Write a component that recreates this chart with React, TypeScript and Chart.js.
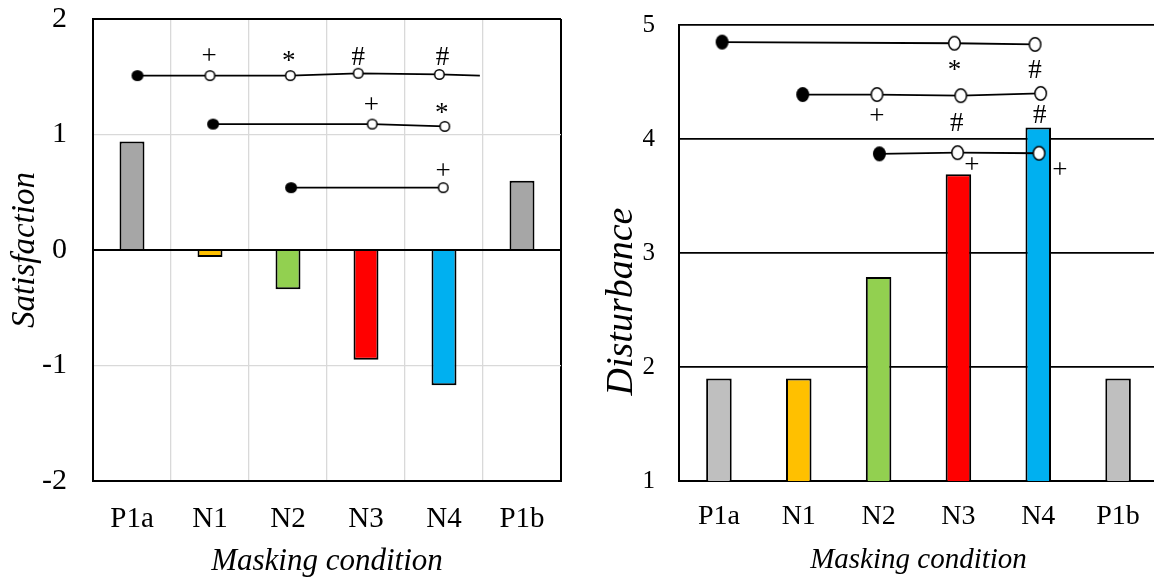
import React, { useEffect, useRef } from 'react';
import { Chart, registerables } from 'chart.js';

Chart.register(...registerables);

const FONT = "'Liberation Serif', 'Times New Roman', serif";

// ---------- data ----------
const categories = ['P1a', 'N1', 'N2', 'N3', 'N4', 'P1b'];
const satisfaction = [0.94, -0.06, -0.34, -0.95, -1.17, 0.6];
const disturbance = [1.9, 1.9, 2.79, 3.69, 4.1, 1.9];

// significance rows: point positions (x in category index units), kind: F = reference (filled), O = compared (open), '-' = line end only
const satRow1 = [
  { x: 0.07, y: 1.51 }, { x: 1.0, y: 1.51 }, { x: 2.03, y: 1.51 },
  { x: 2.9, y: 1.53 }, { x: 3.94, y: 1.52 }, { x: 4.46, y: 1.51 },
];
const satRow1Kinds = ['F', 'O', 'O', 'O', 'O', '-'];
const satRow2 = [{ x: 1.04, y: 1.09 }, { x: 3.08, y: 1.09 }, { x: 4.01, y: 1.07 }];
const satRow2Kinds = ['F', 'O', 'O'];
const satRow3 = [{ x: 2.04, y: 0.54 }, { x: 3.99, y: 0.54 }];
const satRow3Kinds = ['F', 'O'];

const satSymbols = [
  { x: 0.99, y: 1.672, t: '+' }, { x: 2.01, y: 1.674, t: '*' },
  { x: 2.9, y: 1.681, t: '#' }, { x: 3.98, y: 1.681, t: '#' },
  { x: 3.07, y: 1.241, t: '+' }, { x: 3.97, y: 1.23, t: '*' },
  { x: 3.99, y: 0.67, t: '+' },
];

const distRow1 = [{ x: 0.04, y: 4.85 }, { x: 2.95, y: 4.84 }, { x: 3.96, y: 4.83 }];
const distRow1Kinds = ['F', 'O', 'O'];
const distRow2 = [{ x: 1.05, y: 4.39 }, { x: 1.98, y: 4.39 }, { x: 3.03, y: 4.38 }, { x: 4.03, y: 4.4 }];
const distRow2Kinds = ['F', 'O', 'O', 'O'];
const distRow3 = [{ x: 2.01, y: 3.87 }, { x: 2.99, y: 3.88 }, { x: 4.01, y: 3.875 }];
const distRow3Kinds = ['F', 'O', 'O'];

const distSymbols = [
  { x: 2.95, y: 4.643, t: '*' }, { x: 3.96, y: 4.614, t: '#' },
  { x: 1.98, y: 4.187, t: '+' }, { x: 2.98, y: 4.152, t: '#' }, { x: 4.02, y: 4.217, t: '#' },
  { x: 3.17, y: 3.763, t: '+' }, { x: 4.27, y: 3.72, t: '+' },
];

// ---------- styles ----------
const leftBarColors = ['#A6A6A6', '#FFC000', '#92D050', '#FF0000', '#00B0F0', '#A6A6A6'];
const rightBarColors = ['#BFBFBF', '#FFC000', '#92D050', '#FF0000', '#00B0F0', '#BFBFBF'];

// vertical centre of glyph above baseline, in em
const GLYPH_MID: Record<string, number> = { '+': 0.25, '#': 0.34, '*': 0.47 };

function makeMarker(w: number, h: number, filled: boolean, lw: number) {
  const c = document.createElement('canvas');
  c.width = Math.ceil(w + 4);
  c.height = Math.ceil(h + 4);
  const g = c.getContext('2d')!;
  g.beginPath();
  if (filled) {
    g.ellipse(c.width / 2, c.height / 2, w / 2, h / 2, 0, 0, Math.PI * 2);
    g.fillStyle = '#000';
    g.fill();
  } else {
    g.ellipse(c.width / 2, c.height / 2, w / 2 - lw / 2, h / 2 - lw / 2, 0, 0, Math.PI * 2);
    g.fillStyle = '#fff';
    g.fill();
    g.lineWidth = lw;
    g.strokeStyle = '#000';
    g.stroke();
  }
  return c;
}

function symbolPlugin(symbols: { x: number; y: number; t: string }[], size: number) {
  return {
    id: 'sigSymbols',
    afterDatasetsDraw(chart: any) {
      const ctx = chart.ctx;
      const xs = chart.scales.xl;
      const ys = chart.scales.y;
      ctx.save();
      ctx.fillStyle = '#000';
      ctx.font = `${size}px ${FONT}`;
      ctx.textAlign = 'center';
      ctx.textBaseline = 'alphabetic';
      for (const s of symbols) {
        const px = xs.getPixelForValue(s.x);
        const py = ys.getPixelForValue(s.y);
        ctx.fillText(s.t, px, py + (GLYPH_MID[s.t] || 0.3) * size);
      }
      ctx.restore();
    },
  };
}

function lineDataset(points: any[], kinds: string[], filled: any, open: any) {
  return {
    type: 'line',
    data: points,
    xAxisID: 'xl',
    yAxisID: 'y',
    borderColor: '#000',
    borderWidth: 1.8,
    tension: 0,
    fill: false,
    clip: false,
    order: 0,
    pointStyle: kinds.map((k) => (k === 'F' ? filled : open)),
    pointRadius: kinds.map((k) => (k === '-' ? 0 : 6)),
    pointHoverRadius: kinds.map((k) => (k === '-' ? 0 : 6)),
  };
}

const noPad = (s: any) => {
  s.paddingTop = 0;
  s.paddingBottom = 0;
  s.paddingLeft = 0;
  s.paddingRight = 0;
};

export default function App() {
  const leftRef = useRef<HTMLCanvasElement>(null);
  const rightRef = useRef<HTMLCanvasElement>(null);

  useEffect(() => {
    const lF = makeMarker(12, 11, true, 1.5);
    const lO = makeMarker(11, 11, false, 1.5);
    const rF = makeMarker(13, 15, true, 1.5);
    const rO = makeMarker(13, 15, false, 1.5);

    const left = new Chart(leftRef.current!, {
      type: 'bar',
      data: {
        labels: categories,
        datasets: [
          lineDataset(satRow1, satRow1Kinds, lF, lO),
          lineDataset(satRow2, satRow2Kinds, lF, lO),
          lineDataset(satRow3, satRow3Kinds, lF, lO),
          {
            type: 'bar',
            data: satisfaction,
            backgroundColor: leftBarColors,
            borderColor: '#000',
            borderWidth: 2,
            barPercentage: 0.32,
            categoryPercentage: 1,
            grouped: false,
            order: 1,
            xAxisID: 'x',
            yAxisID: 'y',
          },
        ] as any,
      },
      options: {
        animation: false,
        responsive: false,
        layout: { padding: { top: 19, right: 19, bottom: 0, left: 0 } },
        plugins: { legend: { display: false }, tooltip: { enabled: false } },
        scales: {
          x: {
            type: 'category',
            offset: true,
            grid: {
              offset: true,
              drawTicks: false,
              color: (c: any) => (c.type !== 'tick' || c.index === 0 ? '#000' : '#d9d9d9'),
              lineWidth: (c: any) => (c.type !== 'tick' || c.index === 0 ? 2 : 1.3),
            },
            border: { display: true, color: '#000', width: 2 },
            ticks: { font: { family: FONT, size: 29 }, color: '#000', padding: 21 },
            title: {
              display: true,
              text: 'Masking condition',
              color: '#000',
              font: { family: FONT, size: 31, style: 'italic', lineHeight: 1 },
              padding: { top: 0, bottom: 1 },
            },
            afterFit: (s: any) => { s.height = 97; noPad(s); },
          },
          xl: { type: 'linear', position: 'bottom', display: false, offset: false, min: -0.5, max: 5.5 },
          y: {
            min: -2,
            max: 2,
            ticks: { stepSize: 1, font: { family: FONT, size: 30 }, color: '#000', padding: 26 },
            grid: {
              drawTicks: false,
              color: (c: any) => {
                const v = c.tick ? c.tick.value : null;
                return v === 0 || v === 2 || v === -2 ? '#000' : '#d9d9d9';
              },
              lineWidth: (c: any) => {
                const v = c.tick ? c.tick.value : null;
                return v === 0 || v === 2 || v === -2 ? 2 : 1.3;
              },
            },
            border: { display: true, color: '#000', width: 2 },
            title: {
              display: true,
              text: 'Satisfaction',
              color: '#000',
              font: { family: FONT, size: 33, style: 'italic', lineHeight: 1 },
              padding: { top: 9, bottom: 0 },
            },
            afterFit: (s: any) => { s.width = 93; noPad(s); },
          },
        },
      } as any,
      plugins: [symbolPlugin(satSymbols, 27)],
    });

    const right = new Chart(rightRef.current!, {
      type: 'bar',
      data: {
        labels: categories,
        datasets: [
          lineDataset(distRow1, distRow1Kinds, rF, rO),
          lineDataset(distRow2, distRow2Kinds, rF, rO),
          lineDataset(distRow3, distRow3Kinds, rF, rO),
          {
            type: 'bar',
            data: disturbance,
            backgroundColor: rightBarColors,
            borderColor: '#000',
            borderWidth: 2,
            barPercentage: 0.32,
            categoryPercentage: 1,
            grouped: false,
            order: 1,
            xAxisID: 'x',
            yAxisID: 'y',
          },
        ] as any,
      },
      options: {
        animation: false,
        responsive: false,
        layout: { padding: { top: 25, right: 22, bottom: 0, left: 0 } },
        plugins: {
          legend: { display: false },
          tooltip: { enabled: false },
          title: {
            display: true,
            position: 'left',
            align: 'center',
            fullSize: true,
            text: 'Disturbance',
            color: '#000',
            font: { family: FONT, size: 38, style: 'italic', weight: 'normal', lineHeight: 1 },
            padding: { top: 23, bottom: 0 },
          },
        },
        scales: {
          x: {
            type: 'category',
            offset: true,
            grid: { display: false, drawTicks: false },
            border: { display: true, color: '#000', width: 2 },
            ticks: { font: { family: FONT, size: 28 }, color: '#000', padding: 19 },
            title: {
              display: true,
              text: 'Masking condition',
              color: '#000',
              font: { family: FONT, size: 29, style: 'italic', lineHeight: 1 },
              padding: { top: 0, bottom: 3 },
            },
            afterFit: (s: any) => { s.height = 97; noPad(s); },
          },
          xl: { type: 'linear', position: 'bottom', display: false, offset: false, min: -0.5, max: 5.5 },
          y: {
            min: 1,
            max: 5,
            ticks: { stepSize: 1, font: { family: FONT, size: 25 }, color: '#000', padding: 24 },
            grid: { drawTicks: false, color: '#000', lineWidth: 1.8 },
            border: { display: true, color: '#000', width: 2 },
            afterFit: (s: any) => { s.width = 38; noPad(s); },
          },
        },
      } as any,
      plugins: [symbolPlugin(distSymbols, 27)],
    });

    return () => {
      left.destroy();
      right.destroy();
    };
  }, []);

  return (
    <div
      style={{
        position: 'absolute',
        left: 0,
        top: 0,
        width: 1154,
        height: 578,
        overflow: 'hidden',
        background: '#fff',
      }}
    >
      <canvas
        ref={leftRef}
        width={580}
        height={578}
        style={{ position: 'absolute', left: 0, top: 0, width: 580, height: 578, display: 'block' }}
      />
      <canvas
        ref={rightRef}
        width={600}
        height={578}
        style={{ position: 'absolute', left: 580, top: 0, width: 600, height: 578, display: 'block' }}
      />
    </div>
  );
}
